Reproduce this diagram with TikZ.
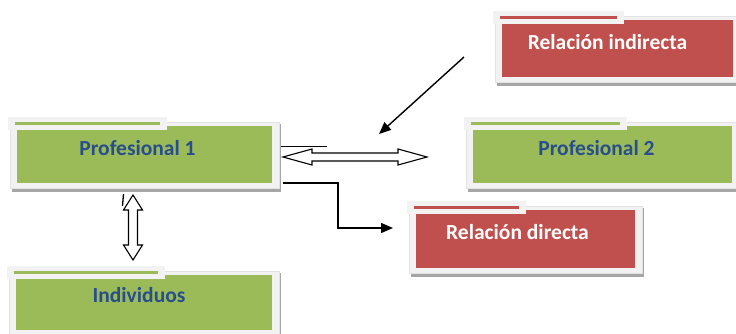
\documentclass[tikz,border=0pt]{standalone}
\usepackage{fontspec}
\setmainfont{Carlito}
\usetikzlibrary{calc,arrows.meta,backgrounds}
\definecolor{ogreen}{HTML}{9BBB59}
\definecolor{ored}{HTML}{C0504D}
\definecolor{oblue}{RGB}{40,78,140}
\definecolor{framec}{HTML}{F2F2F2}
\definecolor{frameline}{HTML}{E2E2E2}
\definecolor{shadowc}{HTML}{A6A6A6}
\tikzset{
  greenbox/.style={draw=none, fill=ogreen, inner sep=0pt},
  redbox/.style={draw=none, fill=ored, inner sep=0pt},
  bluetext/.style={text=oblue, font=\bfseries\fontsize{21.5}{25}\selectfont, inner sep=0pt},
  whitetext/.style={text=white, font=\bfseries\fontsize{21.5}{25}\selectfont, inner sep=0pt},
  hollowarrow/.style={draw=black, line width=1.1pt, fill=white, line join=miter},
  conn/.style={draw=black, line width=1.4pt, -{Triangle[length=12pt, width=10pt]}},
}
% #1 node name, #2 line colour, #3 tab width
\newcommand{\officeframe}[3]{%
  \begin{pgfonlayer}{background}
    \fill[shadowc] ($(#1.north west)+(-5,-2)$) rectangle ($(#1.south east)+(9,9)$);
    \fill[framec, draw=frameline, line width=0.5pt] ($(#1.north west)+(-7,-4)$) rectangle ($(#1.south east)+(7,5)$);
  \end{pgfonlayer}
  \fill[framec] ($(#1.north west)+(-9,-9)$) rectangle ($(#1.north west)+(#3,4)$);
  \draw[#2, line width=3pt] ($(#1.north west)+(-2,-2)$) -- ($(#1.north west)+(#3-7,-2)$);
}
\begin{document}
\begin{tikzpicture}[x=1pt,y=-1pt]
\useasboundingbox (0,0) rectangle (736,334);
\begin{pgfonlayer}{background}
  \fill[white] (0,0) rectangle (736,334);
\end{pgfonlayer}

% boxes
\node[greenbox, minimum width=255pt, minimum height=57pt] (p1) at (144.5,154.5) {};
\officeframe{p1}{ogreen}{150}
\node[bluetext] (p1t) at ($(p1)+(-7,-6)$) {Profesional 1};

\node[greenbox, minimum width=259pt, minimum height=57pt] (p2) at (602.5,154.5) {};
\officeframe{p2}{ogreen}{154}
\node[bluetext] (p2t) at ($(p2)+(-6,-6)$) {Profesional 2};

\node[greenbox, minimum width=256pt, minimum height=55pt] (ind) at (144,302.5) {};
\officeframe{ind}{ogreen}{149}
\node[bluetext] (indt) at ($(ind)+(-5,-7)$) {Individuos};

\node[redbox, minimum width=231pt, minimum height=57pt] (ri) at (617.5,48.5) {};
\officeframe{ri}{ored}{122}
\node[whitetext] (rit) at ($(ri)+(-10,-6)$) {Relación indirecta};

\node[redbox, minimum width=219pt, minimum height=58pt] (rd) at (525.5,239) {};
\officeframe{rd}{ored}{110}
\node[whitetext] (rdt) at ($(rd)+(-8,-7)$) {Relación directa};

% horizontal hollow double arrow
\coordinate (ha) at (283,157);
\coordinate (hb) at (427,157);
\draw[hollowarrow] (ha) -- ($(ha)+(29,-8)$) -- ($(ha)+(29,-4)$) -- ($(hb)+(-29,-4)$) -- ($(hb)+(-29,-8)$) -- (hb)
  -- ($(hb)+(-29,8)$) -- ($(hb)+(-29,4)$) -- ($(ha)+(29,4)$) -- ($(ha)+(29,8)$) -- cycle;
\coordinate (sa) at (281,147);
\coordinate (sb) at (327,147);
\draw[line width=1pt] (sa) -- (sb);

% vertical hollow double arrow
\coordinate (va) at (133,195);
\coordinate (vb) at (133,260);
\draw[hollowarrow] (va) -- ($(va)+(9.5,15)$) -- ($(va)+(4.5,15)$) -- ($(vb)+(4.5,-15)$) -- ($(vb)+(9.5,-15)$) -- (vb)
  -- ($(vb)+(-9.5,-15)$) -- ($(vb)+(-4.5,-15)$) -- ($(va)+(-4.5,15)$) -- ($(va)+(-9.5,15)$) -- cycle;
\coordinate (ta) at (123.5,194);
\coordinate (tb) at (122.5,206);
\draw[line width=1.3pt] (ta) -- (tb);

% elbow arrow to Relación directa
\coordinate (ea) at (283,183);
\coordinate (eb) at (393,228);
\draw[conn] (ea) -- ++(55,0) |- (eb);

% diagonal arrow from Relación indirecta
\coordinate (da) at (464,57);
\coordinate (db) at (379,134);
\draw[conn] (da) -- (db);
\end{tikzpicture}
\end{document}
